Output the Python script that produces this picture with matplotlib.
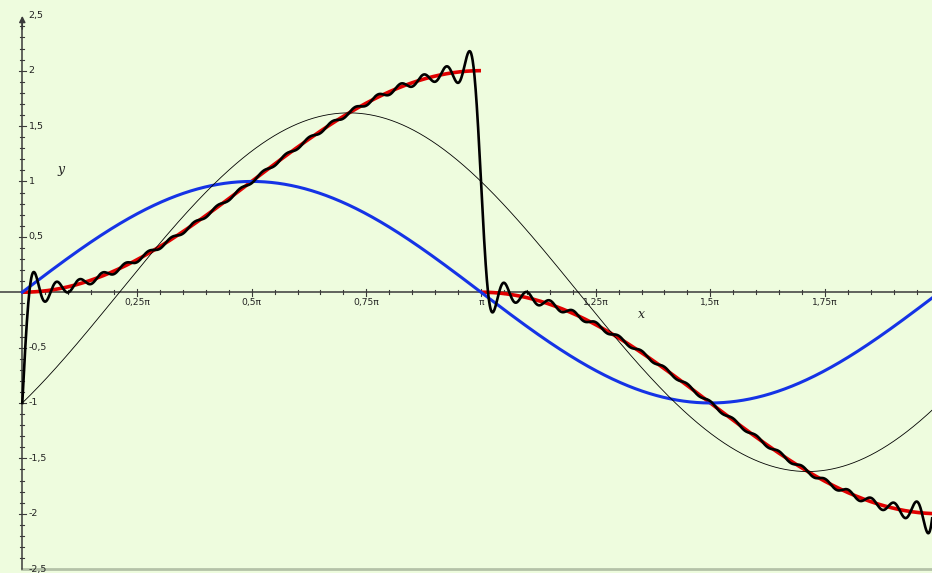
"""
Fourier partial sum of f(x) = -cos x + sgn(sin x) on [0, 2pi]
"""
import numpy as np
import matplotlib
matplotlib.use('Agg')
import matplotlib.pyplot as plt

PI = np.pi

# y = cos_coef * cos(x) + sum sine_coef[k] * sin(harmonics[k] * x)
cos_coef = -1.0
harmonics = [1, 3, 5, 7, 9, 11, 13, 15, 17, 19,
             21, 23, 25, 27, 29, 31, 33, 35, 37, 39]
sine_coef = [1.27324, 0.42441, 0.25465, 0.18189, 0.14147, 0.11575, 0.09794,
             0.08488, 0.07490, 0.06701, 0.06063, 0.05536, 0.05093, 0.04716,
             0.04390, 0.04107, 0.03858, 0.03638, 0.03441, 0.03265]

# target function: cos part plus a step of +1 / -1 on each half period
red_start = [0.0, PI]
red_end = [PI, 2 * PI]
red_step = [1.0, -1.0]

blue_amp = 1.0   # sin(x)

xticks = [0.25, 0.5, 0.75, 1.0, 1.25, 1.5, 1.75]
xticklabels = ['0,25π', '0,5π', '0,75π', 'π', '1,25π', '1,5π', '1,75π']
yticks = [2.5, 2, 1.5, 1, 0.5, -0.5, -1, -1.5, -2, -2.5]
yticklabels = ['2,5', '2', '1,5', '1', '0,5', '-0,5', '-1', '-1,5', '-2', '-2,5']

BG = '#eefcde'
AX = '#3a3a3a'

fig = plt.figure(figsize=(9.32, 5.73), dpi=100, facecolor=BG)
ax = fig.add_axes([0, 0, 1, 1], facecolor=BG)
ax.set_xlim(-0.0486 * PI, 1.9832 * PI)
ax.set_ylim(-2.535, 2.638)
ax.set_axis_off()

x = np.linspace(0, 2 * PI, 4000)

# red target curve, two pieces
for a, b, s in zip(red_start, red_end, red_step):
    xx = np.linspace(a, b, 800)
    ax.plot(xx, cos_coef * np.cos(xx) + s, color='#e00000', lw=2.6,
            solid_capstyle='butt', zorder=3)

# blue sin(x)
ax.plot(x, blue_amp * np.sin(x), color='#1533e6', lw=2.2, zorder=4)

# thin: first harmonic only
ax.plot(x, cos_coef * np.cos(x) + sine_coef[0] * np.sin(harmonics[0] * x),
        color='black', lw=0.6, zorder=5)

# thick black: partial sum
ysum = cos_coef * np.cos(x)
for n, b in zip(harmonics, sine_coef):
    ysum = ysum + b * np.sin(n * x)
ax.plot(x, ysum, color='black', lw=1.9, zorder=6)

# axes through origin
ax.axhline(0, color=AX, lw=1.1, zorder=2)
ax.plot([0, 0], [-2.5, 2.45], color=AX, lw=1.1, zorder=2)
ax.annotate('', xy=(0, 2.52), xytext=(0, 2.35),
            arrowprops=dict(arrowstyle='-|>', color=AX, lw=1.1,
                            mutation_scale=9), zorder=2)
ax.axhline(-2.5, xmin=(0.0486) / (0.0486 + 1.9832), color='#b4c2a8', lw=2,
           zorder=1)

# minor / major ticks on x axis
for k in range(1, 40):
    xv = k * 0.05 * PI
    h = 0.032 if k % 5 == 0 else 0.017
    ax.plot([xv, xv], [-h, h], color=AX, lw=0.8, zorder=2)
# ticks on y axis
for k in range(-24, 25):
    if k == 0:
        continue
    yv = k * 0.1
    h = 0.0078 * PI if k % 5 == 0 else 0.0042 * PI
    ax.plot([-h, h], [yv, yv], color=AX, lw=0.8, zorder=2)

for v, lab in zip(xticks, xticklabels):
    ax.annotate(lab, (v * PI, 0), xytext=(0, -4.5), textcoords='offset points',
                ha='center', va='top', fontsize=6.6, color='#222222')
for v, lab in zip(yticks, yticklabels):
    ax.annotate(lab, (0, v), xytext=(4.5, 0), textcoords='offset points',
                ha='left', va='center', fontsize=6.8, color='#222222')

ax.text(0.084 * PI, 1.11, 'y', fontsize=9, family='DejaVu Serif',
        style='italic', color='#222222', ha='center', va='center')
ax.text(1.35 * PI, -0.2, 'x', fontsize=9, family='DejaVu Serif',
        style='italic', color='#222222', ha='center', va='center')

fig.savefig('out.png', dpi=100, facecolor=BG)
